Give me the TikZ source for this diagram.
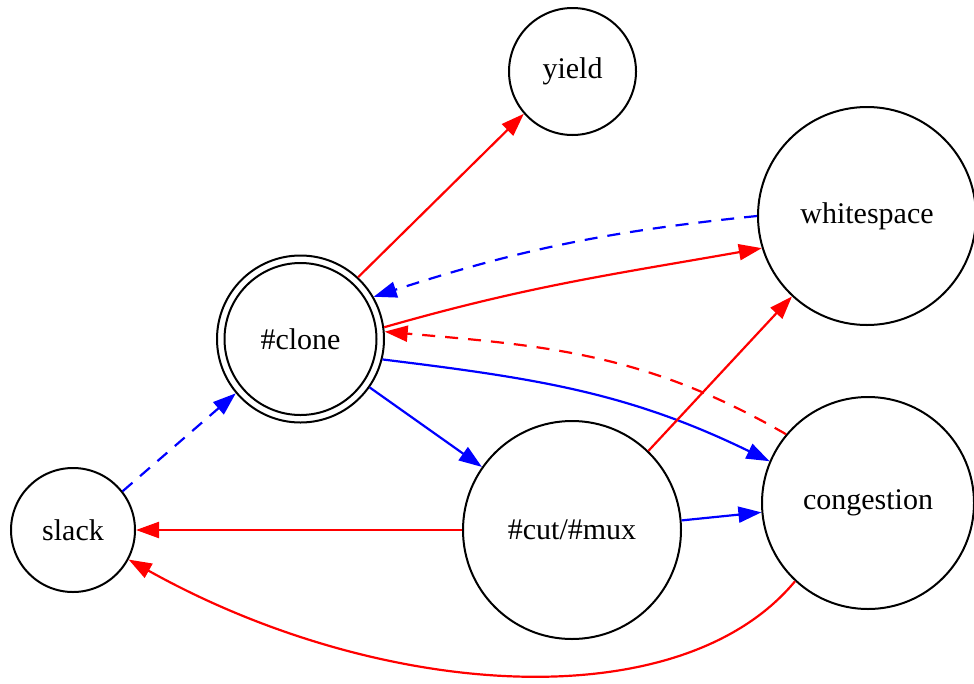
\documentclass[tikz,border=0pt]{standalone}
\usepackage{fontspec}
\setmainfont{Liberation Serif}
\usetikzlibrary{arrows.meta}
\begin{document}
\begin{tikzpicture}[x=1pt,y=-1pt,
  gnode/.style={circle, draw=black, line width=2pt, inner sep=0pt, font=\fontsize{30}{34}\selectfont},
  edge/.style={line width=2.2pt, -{Triangle[length=23pt,width=16pt]}},
  dashedge/.style={edge, dash pattern=on 13pt off 10pt}]
\useasboundingbox (0,0) rectangle (974,683);
\node[gnode, minimum size=127pt] (yield) at (572.5,71.5) {yield};
\node[gnode, minimum size=218pt] (ws) at (867,216) {whitespace};
\node[gnode, minimum size=167pt] (clone) at (300.5,339) {\#clone};
\node[gnode, minimum size=152pt] (cloneinner) at (300.5,339) {};
\node[gnode, minimum size=124pt] (slack) at (73,530) {slack};
\node[gnode, minimum size=218pt] (cut) at (572,530) {\#cut/\#mux};
\node[gnode, minimum size=212pt] (cong) at (868,503) {congestion};

\draw[red, edge] (clone.47) -- (yield.221);
\draw[blue, dashedge] (ws.180) to[bend right=6] (clone.30);
\draw[red, edge] (clone.8) to[out=16, in=190] (ws.197);
\draw[red, dashedge] (cong.140) to[out=150, in=-5] (clone.5);
\draw[blue, edge] (clone.-14) to[out=-7, in=154] (cong.157);
\draw[blue, edge] (clone.-35) -- (cut.145);
\draw[blue, dashedge] (slack.38) -- (clone.220);
\draw[red, edge] (cut.180) -- (slack.0);
\draw[blue, edge] (cut.5) -- (cong.185);
\draw[red, edge] (cut.46) -- (ws.227);
\draw[red, edge] (cong.227) .. controls (680,720) and (380,700) .. (slack.-28);
\end{tikzpicture}
\end{document}
